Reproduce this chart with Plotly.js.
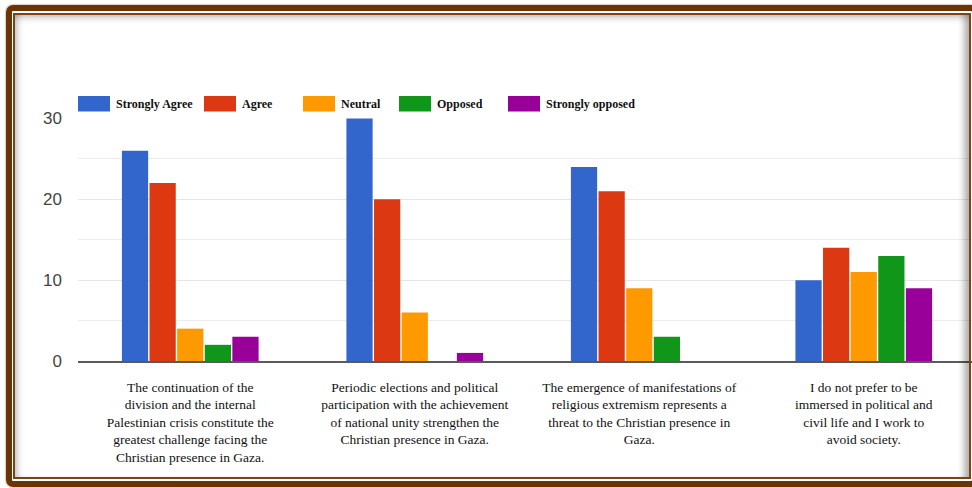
<!DOCTYPE html>
<html>
<head>
<meta charset="utf-8">
<script src="https://cdn.plot.ly/plotly-3.0.1.min.js"></script>
<style>
  html, body { margin: 0; padding: 0; background: #ffffff; width: 972px; height: 488px; overflow: hidden; }
  #chart { position: absolute; left: 0; top: 0; width: 976px; height: 488px; }
  .frame-outer {
    position: absolute; left: 6px; top: 5px; width: 972px; height: 482px;
    box-sizing: border-box; border: 6px solid #6b3407; border-radius: 7px;
    box-shadow: 0 0 1px 1px rgba(160, 110, 70, 0.35);
    pointer-events: none;
  }
  .frame-inner {
    position: absolute; left: 13px; top: 13px; width: 958px; height: 466px;
    box-sizing: border-box; border: 2px solid #7a4414;
    box-shadow: inset 0 7px 6px -4px rgba(0,0,0,0.22),
                inset 7px 0 6px -4px rgba(0,0,0,0.22),
                inset -9px 0 6px -4px rgba(0,0,0,0.3);
    pointer-events: none;
  }
</style>
</head>
<body>
<div id="chart"></div>
<div class="frame-outer"></div>
<div class="frame-inner"></div>
<script>
// Survey statements (category axis)
const categories = [
  "The continuation of the<br>division and the internal<br>Palestinian crisis constitute the<br>greatest challenge facing the<br>Christian presence in Gaza.",
  "Periodic elections and political<br>participation with the achievement<br>of national unity strengthen the<br>Christian presence in Gaza.",
  "The emergence of manifestations of<br>religious extremism represents a<br>threat to the Christian presence in<br>Gaza.",
  "I do not prefer to be<br>immersed in political and<br>civil life and I work to<br>avoid society."
];

// Response options
const seriesNames = ["Strongly Agree", "Agree", "Neutral", "Opposed", "Strongly opposed"];

// Number of respondents per statement
const stronglyAgree   = [26, 30, 24, 10];
const agree           = [22, 20, 21, 14];
const neutral         = [4, 6, 9, 11];
const opposed         = [2, 0, 3, 13];
const stronglyOpposed = [3, 1, 0, 9];

const seriesColors = ["#3366cc", "#dc3912", "#ff9900", "#109618", "#990099"];
const yTickValues = [0, 10, 20, 30];

const seriesValues = [stronglyAgree, agree, neutral, opposed, stronglyOpposed];

const traces = seriesNames.map((name, i) => ({
  type: "bar",
  name: name,
  x: categories,
  y: seriesValues[i],
  marker: { color: seriesColors[i], line: { width: 0 } },
  hoverinfo: "skip"
}));

// Plot area geometry (pixels) used to place the hand-built legend
const plotLeft = 78, plotWidth = 898, plotBottom = 361, plotHeight = 243;
const px2x = px => (px - plotLeft) / plotWidth;
const px2y = py => (plotBottom - py) / plotHeight;

// Legend: wide swatches followed by bold serif labels
const legendSwatchLeft = [78, 204, 303, 399, 508];
const swatchW = 32, swatchTop = 96, swatchBottom = 111.5;

const shapes = seriesNames.map((name, i) => ({
  type: "rect", xref: "paper", yref: "paper", layer: "above",
  x0: px2x(legendSwatchLeft[i]), x1: px2x(legendSwatchLeft[i] + swatchW),
  y0: px2y(swatchBottom), y1: px2y(swatchTop),
  fillcolor: seriesColors[i], line: { width: 0 }
}));

const annotations = seriesNames.map((name, i) => ({
  xref: "paper", yref: "paper",
  x: px2x(legendSwatchLeft[i] + swatchW + 4), y: px2y((swatchTop + swatchBottom) / 2),
  xanchor: "left", yanchor: "middle",
  text: "<b>" + name + "</b>", showarrow: false,
  font: { family: "Liberation Serif, 'Times New Roman', serif", size: 12, color: "#111111" }
}));

const layout = {
  width: 976, height: 488,
  margin: { l: plotLeft, r: 976 - plotLeft - plotWidth, t: plotBottom - plotHeight, b: 488 - plotBottom, pad: 0 },
  paper_bgcolor: "rgba(0,0,0,0)",
  plot_bgcolor: "rgba(0,0,0,0)",
  barmode: "group",
  bargap: 0.385,
  bargroupgap: 0.05,
  showlegend: false,
  xaxis: {
    type: "category",
    showgrid: false,
    zeroline: false,
    showline: true, linecolor: "#5a5a5a", linewidth: 1.5,
    ticks: "",
    ticklabelstandoff: 13,
    tickfont: { family: "Liberation Serif, 'Times New Roman', serif", size: 13.5, color: "#111111" }
  },
  yaxis: {
    range: [0, 30.05],
    tickvals: yTickValues,
    ticktext: yTickValues.map(String),
    showgrid: true, gridcolor: "#e6e6e6", gridwidth: 1,
    minor: { dtick: 5, tick0: 0, showgrid: true, gridcolor: "#ececec", gridwidth: 1, ticks: "" },
    zeroline: false, showline: false,
    ticks: "",
    ticklabelstandoff: 15,
    tickfont: { family: "Liberation Sans, Arial, sans-serif", size: 17, color: "#444444" }
  },
  shapes: shapes,
  annotations: annotations
};

Plotly.newPlot("chart", traces, layout, { displayModeBar: false, staticPlot: true });
</script>
</body>
</html>
